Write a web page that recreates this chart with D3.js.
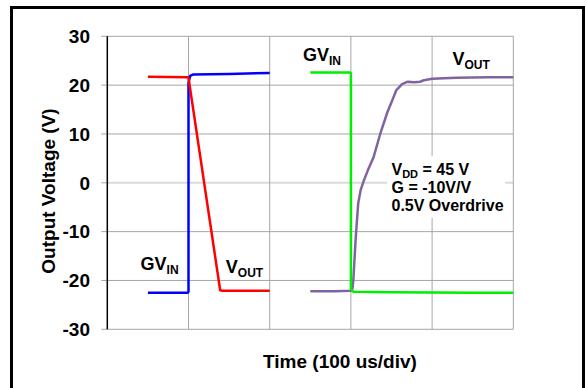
<!DOCTYPE html>
<html>
<head>
<meta charset="utf-8">
<script src="https://cdn.jsdelivr.net/npm/d3@7"></script>
<style>
  body { margin: 0; background: #fff; }
  svg text { font-family: Arial, "Liberation Sans", sans-serif; font-weight: bold; fill: #000; }
  .grid line { stroke: #a6a6a6; stroke-width: 1; }
  .trace { fill: none; stroke-width: 2.5; stroke-linejoin: round; }
</style>
</head>
<body>
<div id="chart"></div>
<script>
// time in divisions (100 us/div), voltage in V
const yTicks = [-30, -20, -10, 0, 10, 20, 30];
const xDivs = [0, 1, 2, 3, 4, 5];

const blueGvin = [
    [0.5, -22.5], [0.99, -22.5], [1.0, -22.3], [1.0, 20.5], [1.02, 21.9],
    [1.06, 22.2], [1.5, 22.3], [2.0, 22.5]
];
const redVout = [
    [0.5, 21.7], [0.99, 21.6], [1.0, 21.5], [1.39, -22.0], [1.42, -22.1], [2.0, -22.1]
];
const greenGvin = [
    [2.5, 22.6], [2.99, 22.6], [3.0, 22.4], [3.0, -21.8], [3.03, -22.3],
    [3.5, -22.4], [4.5, -22.5], [5.0, -22.5]
];
const purpleVout = [
    [2.5, -22.2], [2.8, -22.2], [3.0, -22.1], [3.02, -21.6], [3.03, -19.9],
    [3.06, -11.1], [3.09, -4.2], [3.12, -1.5], [3.16, 0.5], [3.21, 2.6],
    [3.28, 5.3], [3.37, 10.5], [3.45, 14.5], [3.51, 16.9], [3.56, 19.0],
    [3.63, 20.2], [3.70, 20.7], [3.78, 20.6], [3.85, 20.7], [3.90, 21.0],
    [4.0, 21.3], [4.3, 21.5], [4.7, 21.6], [5.0, 21.6]
];

const W = 586, H = 388;
const svg = d3.select("#chart").append("svg")
    .attr("width", W).attr("height", H);

// outer frame (bottom edge runs off the picture)
svg.append("rect")
    .attr("x", 11.5).attr("y", 7.5)
    .attr("width", 572).attr("height", 400)
    .attr("fill", "#fff").attr("stroke", "#000").attr("stroke-width", 3);

const x = d3.scaleLinear().domain([0, 5]).range([107.3, 513.3]);
const y = d3.scaleLinear().domain([-30, 30]).range([329.3, 36.3]);

// horizontal grid
const grid = svg.append("g").attr("class", "grid");
grid.selectAll("line.h")
    .data(yTicks)
    .join("line")
    .attr("class", "h")
    .attr("x1", d => d === 0 ? x(0) : x(0) - 6)
    .attr("x2", x(5))
    .attr("y1", d => y(d)).attr("y2", d => y(d))
    .style("stroke", d => d === 0 ? "#dadada" : null)
    .style("stroke-width", d => d === 0 ? 2 : null);
// short tick stub for 0
grid.append("line")
    .attr("x1", x(0) - 6).attr("x2", x(0))
    .attr("y1", y(0)).attr("y2", y(0));

// vertical grid
grid.selectAll("line.v")
    .data(xDivs.slice(1))
    .join("line")
    .attr("class", "v")
    .attr("x1", d => x(d)).attr("x2", d => x(d))
    .attr("y1", y(30)).attr("y2", y(-30));

// left axis line
svg.append("line")
    .attr("x1", x(0)).attr("x2", x(0))
    .attr("y1", y(30)).attr("y2", y(-30))
    .attr("stroke", "#000").attr("stroke-width", 1.5);

// tick labels
svg.append("g").selectAll("text")
    .data(yTicks)
    .join("text")
    .attr("x", 90)
    .attr("y", d => y(d))
    .attr("dy", "0.36em")
    .attr("text-anchor", "end")
    .style("font-size", "19px")
    .text(d => d);

// traces
const line = d3.line().x(d => x(d[0])).y(d => y(d[1]));
const traces = [
    { data: blueGvin, color: "#0000ff" },
    { data: redVout, color: "#ff0000" },
    { data: purpleVout, color: "#8064a2" },
    { data: greenGvin, color: "#00ee00" }
];
svg.selectAll("path.trace")
    .data(traces)
    .join("path")
    .attr("class", "trace")
    .attr("stroke", d => d.color)
    .attr("d", d => line(d.data));

// white box behind the note
svg.append("rect")
    .attr("x", 387).attr("y", 156)
    .attr("width", 118).attr("height", 62)
    .attr("fill", "#fff");

// trace labels with subscripts
const labels = [
    { t: 0.41, v: -17.9, main: "GV", sub: "IN" },
    { t: 1.46, v: -18.4, main: "V", sub: "OUT" },
    { t: 2.41, v: 25.0, main: "GV", sub: "IN" },
    { t: 4.25, v: 24.1, main: "V", sub: "OUT" }
];
labels.forEach(d => {
    const txt = svg.append("text")
        .attr("x", x(d.t)).attr("y", y(d.v))
        .style("font-size", "18px");
    txt.append("tspan").text(d.main);
    txt.append("tspan").attr("dy", 4).style("font-size", "12px").text(d.sub);
});

// note
const note = svg.append("g").style("font-size", "16px");
const n1 = note.append("text").attr("x", x(3.5)).attr("y", 175);
n1.append("tspan").text("V");
n1.append("tspan").attr("dy", 3).style("font-size", "11px").text("DD");
n1.append("tspan").attr("dy", -3).text(" = 45 V");
note.append("text").attr("x", x(3.5)).attr("y", 193).text("G = -10V/V");
note.append("text").attr("x", x(3.5)).attr("y", 211).text("0.5V Overdrive");

// axis titles
svg.append("text")
    .attr("x", 340).attr("y", 368)
    .attr("text-anchor", "middle")
    .style("font-size", "19px")
    .text("Time (100 us/div)");

svg.append("text")
    .attr("transform", "translate(55,191) rotate(-90)")
    .attr("text-anchor", "middle")
    .style("font-size", "19px")
    .text("Output Voltage (V)");
</script>
</body>
</html>
